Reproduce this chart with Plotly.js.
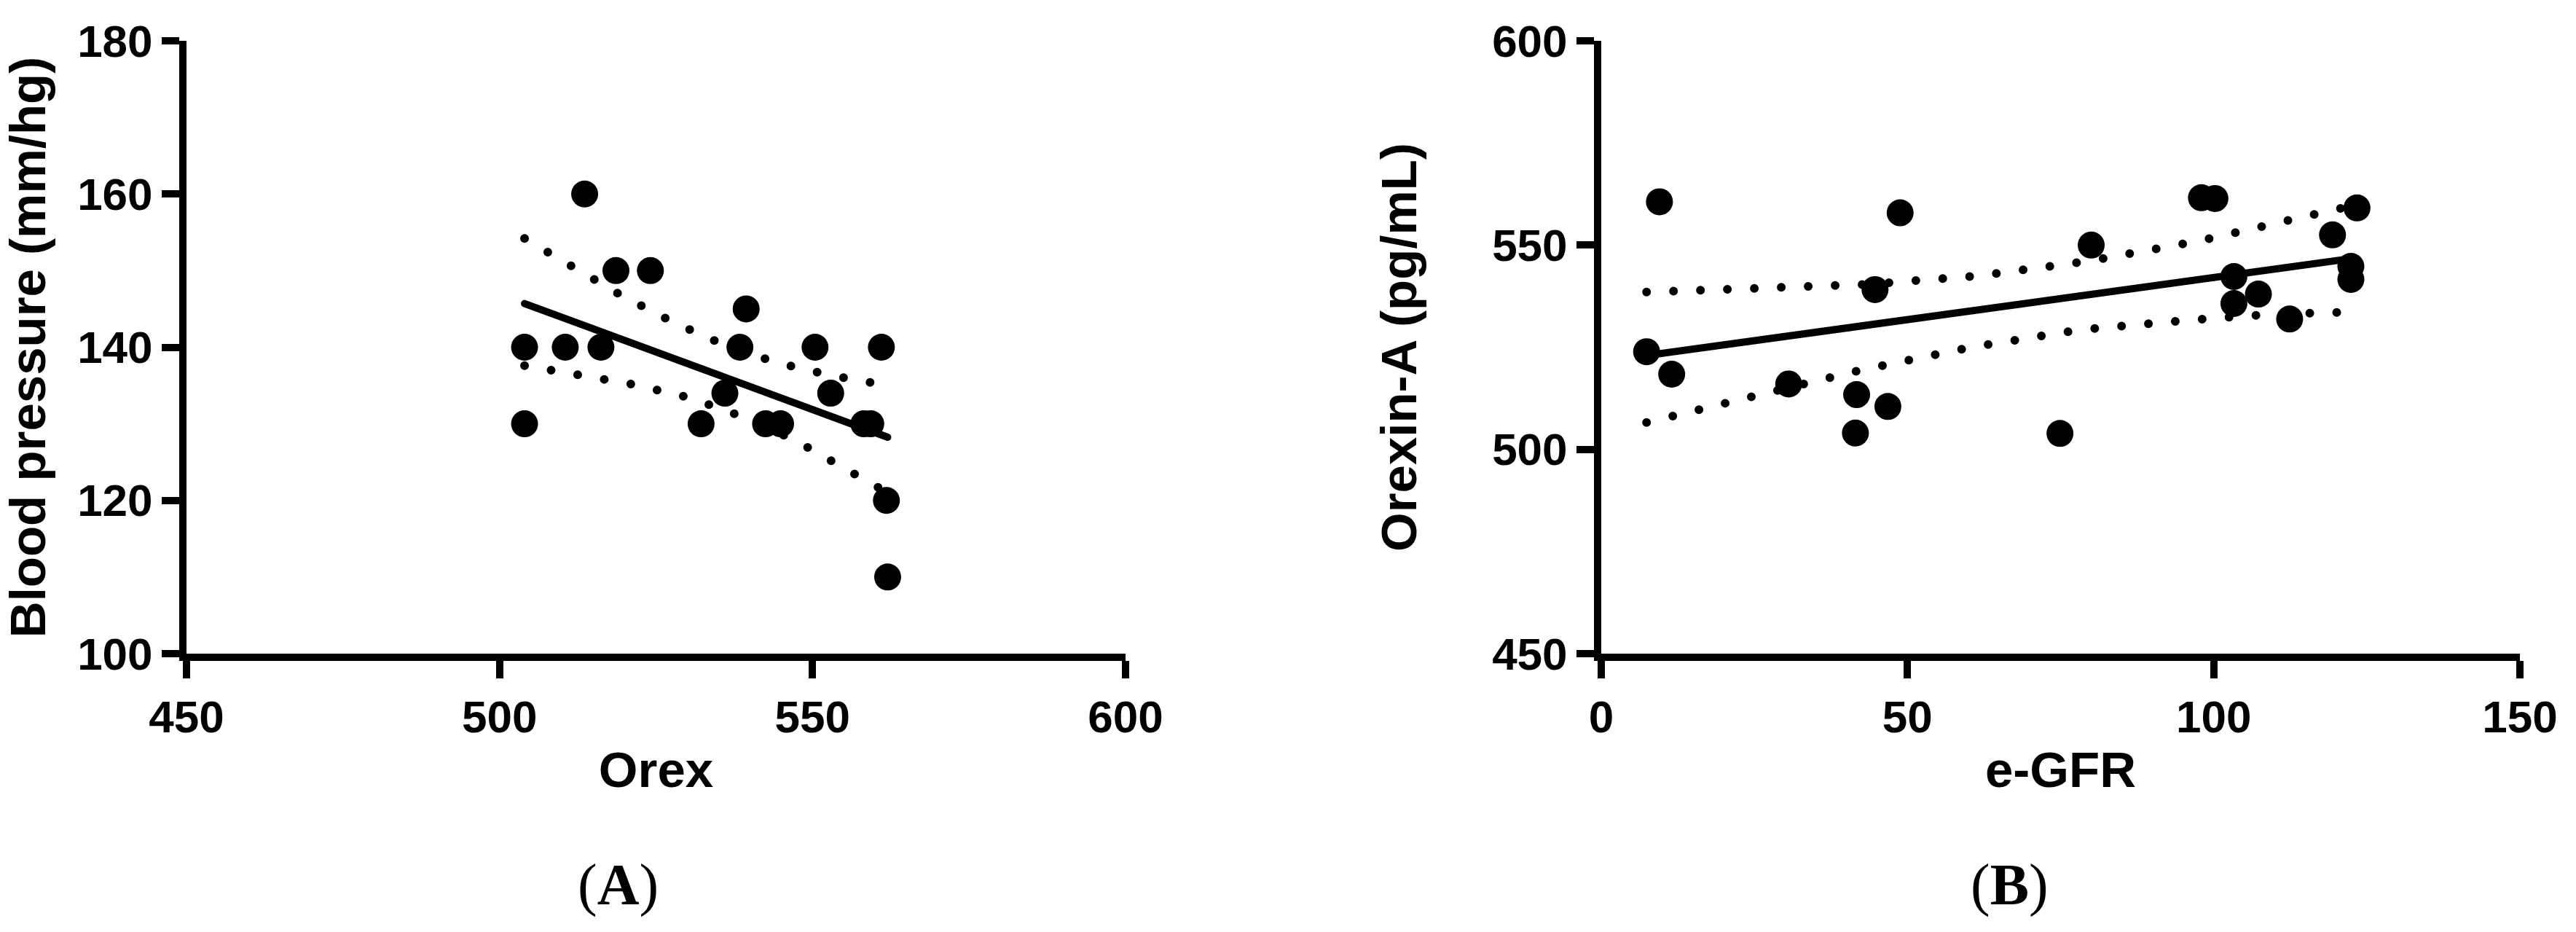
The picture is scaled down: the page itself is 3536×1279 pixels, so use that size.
<!DOCTYPE html>
<html>
<head>
<meta charset="utf-8">
<script src="https://cdn.plot.ly/plotly-3.0.1.min.js"></script>
<style>
  html, body { margin: 0; padding: 0; background: #ffffff; }
  #chart { width: 3536px; height: 1279px; }
  .scatterlayer .js-line { stroke-linecap: round !important; }
</style>
</head>
<body>
<div id="chart"></div>
<script>
// ---------- Panel A: Orexin vs Blood pressure ----------
const orexA = [504, 504, 513.6, 510.5, 516.2, 518.6, 524.1, 532.2, 536, 539.4, 538.4, 542.5, 544.9, 550.4, 552.9, 558.2, 559.3, 561, 561.8, 562];
const bpA   = [140, 130, 160, 140, 140, 150, 150, 130, 134, 145, 140, 130, 130, 140, 134, 130, 130, 140, 120, 110];

const fitAx = [504, 562];
const fitAy = [145.7, 128.25];

const upperAx = [504, 511.6, 519.4, 527.4, 535.6, 544.2, 553.0, 562];
const upperAy = [154.2, 150.4, 146.8, 143.4, 140.4, 138.0, 136.3, 135.0];
const lowerAx = [504, 512.8, 521.7, 530.4, 538.9, 547.1, 555.1, 559.0, 562];
const lowerAy = [137.6, 136.4, 135.1, 133.4, 130.9, 127.9, 124.3, 122.6, 121.0];

const xTicksA = [450, 500, 550, 600];
const yTicksA = [100, 120, 140, 160, 180];

// ---------- Panel B: e-GFR vs Orexin-A ----------
const egfrB    = [7.4, 9.5, 11.5, 30.6, 41.7, 41.5, 44.7, 46.8, 48.8, 74.9, 80.0, 98.0, 100.2, 103.3, 103.3, 107.3, 112.4, 119.4, 122.4, 122.4, 123.4];
const orexinB  = [523.9, 560.6, 518.4, 516.0, 513.4, 504.0, 539.1, 510.5, 557.9, 503.9, 550.0, 561.6, 561.4, 542.3, 535.7, 538.0, 531.9, 552.5, 544.8, 541.6, 559.1];

const fitBx = [7.5, 122];
const fitBy = [523.0, 546.6];

const upperBx = [7.4, 25.5, 43.6, 61.7, 79.7, 97.6, 110.9, 119.7, 122.5];
const upperBy = [538.5, 539.2, 540.4, 542.5, 546.1, 551.0, 555.6, 558.7, 559.6];
const lowerBx = [7.4, 25.1, 42.7, 60.4, 78.3, 96.4, 109.8, 119.1, 122.5];
const lowerBy = [506.6, 513.1, 519.5, 525.0, 529.3, 531.7, 533.1, 533.5, 533.6];

const xTicksB = [0, 50, 100, 150];
const yTicksB = [450, 500, 550, 600];

// ---------- styling ----------
const BLACK = '#000000';
const tickFont = { family: 'Liberation Sans, Arial, sans-serif', size: 62, weight: 700, color: BLACK };
const titleFont = { family: 'Liberation Sans, Arial, sans-serif', size: 69, weight: 700, color: BLACK };
const markerStyle = { size: 37, color: BLACK, line: { width: 0 } };
const fitLine = { color: BLACK, width: 10 };
const bandLine = { color: BLACK, width: 12, dash: '0px,37px' };

function axisBase(extra) {
  return Object.assign({
    showline: true, linewidth: 10, linecolor: BLACK,
    ticks: 'outside', ticklen: 24, tickwidth: 10, tickcolor: BLACK,
    showgrid: false, zeroline: false, tickfont: tickFont,
    fixedrange: true
  }, extra);
}

const traces = [
  { x: upperAx, y: upperAy, mode: 'lines', line: bandLine, xaxis: 'x', yaxis: 'y', hoverinfo: 'skip' },
  { x: lowerAx, y: lowerAy, mode: 'lines', line: bandLine, xaxis: 'x', yaxis: 'y', hoverinfo: 'skip' },
  { x: fitAx, y: fitAy, mode: 'lines', line: fitLine, xaxis: 'x', yaxis: 'y' },
  { x: orexA, y: bpA, mode: 'markers', marker: markerStyle, xaxis: 'x', yaxis: 'y', cliponaxis: false },

  { x: upperBx, y: upperBy, mode: 'lines', line: bandLine, xaxis: 'x2', yaxis: 'y2', hoverinfo: 'skip' },
  { x: lowerBx, y: lowerBy, mode: 'lines', line: bandLine, xaxis: 'x2', yaxis: 'y2', hoverinfo: 'skip' },
  { x: fitBx, y: fitBy, mode: 'lines', line: fitLine, xaxis: 'x2', yaxis: 'y2' },
  { x: egfrB, y: orexinB, mode: 'markers', marker: markerStyle, xaxis: 'x2', yaxis: 'y2', cliponaxis: false }
];

const W = 3536, H = 1279;
const yDom = [(H - 897) / H, (H - 56) / H];

const layout = {
  width: W, height: H,
  margin: { l: 0, r: 0, t: 0, b: 0, pad: 0 },
  paper_bgcolor: '#ffffff', plot_bgcolor: '#ffffff',
  showlegend: false,
  xaxis: axisBase({
    domain: [256 / W, 1545 / W], range: [450, 600], tickvals: xTicksA, anchor: 'y',
    title: { text: 'Orex', font: titleFont, standoff: 18 }
  }),
  yaxis: axisBase({
    domain: yDom, range: [100, 180], tickvals: yTicksA, anchor: 'x',
    title: { text: 'Blood pressure (mm/hg)', font: titleFont, standoff: 38 }
  }),
  xaxis2: axisBase({
    domain: [2198 / W, 3459 / W], range: [0, 150], tickvals: xTicksB, anchor: 'y2',
    title: { text: 'e-GFR', font: titleFont, standoff: 18 }
  }),
  yaxis2: axisBase({
    domain: yDom, range: [450, 600], tickvals: yTicksB, anchor: 'x2',
    title: { text: 'Orexin-A (pg/mL)', font: titleFont, standoff: 85 }
  }),
  annotations: [
    { text: '(<b>A</b>)', xref: 'paper', yref: 'paper', x: 848 / W, y: (H - 1214) / H,
      xanchor: 'center', yanchor: 'middle', showarrow: false,
      font: { family: 'Liberation Serif, Times New Roman, serif', size: 80, color: BLACK } },
    { text: '(<b>B</b>)', xref: 'paper', yref: 'paper', x: 2758 / W, y: (H - 1214) / H,
      xanchor: 'center', yanchor: 'middle', showarrow: false,
      font: { family: 'Liberation Serif, Times New Roman, serif', size: 80, color: BLACK } }
  ]
};

Plotly.newPlot('chart', traces, layout, { staticPlot: true, displayModeBar: false });
</script>
</body>
</html>
